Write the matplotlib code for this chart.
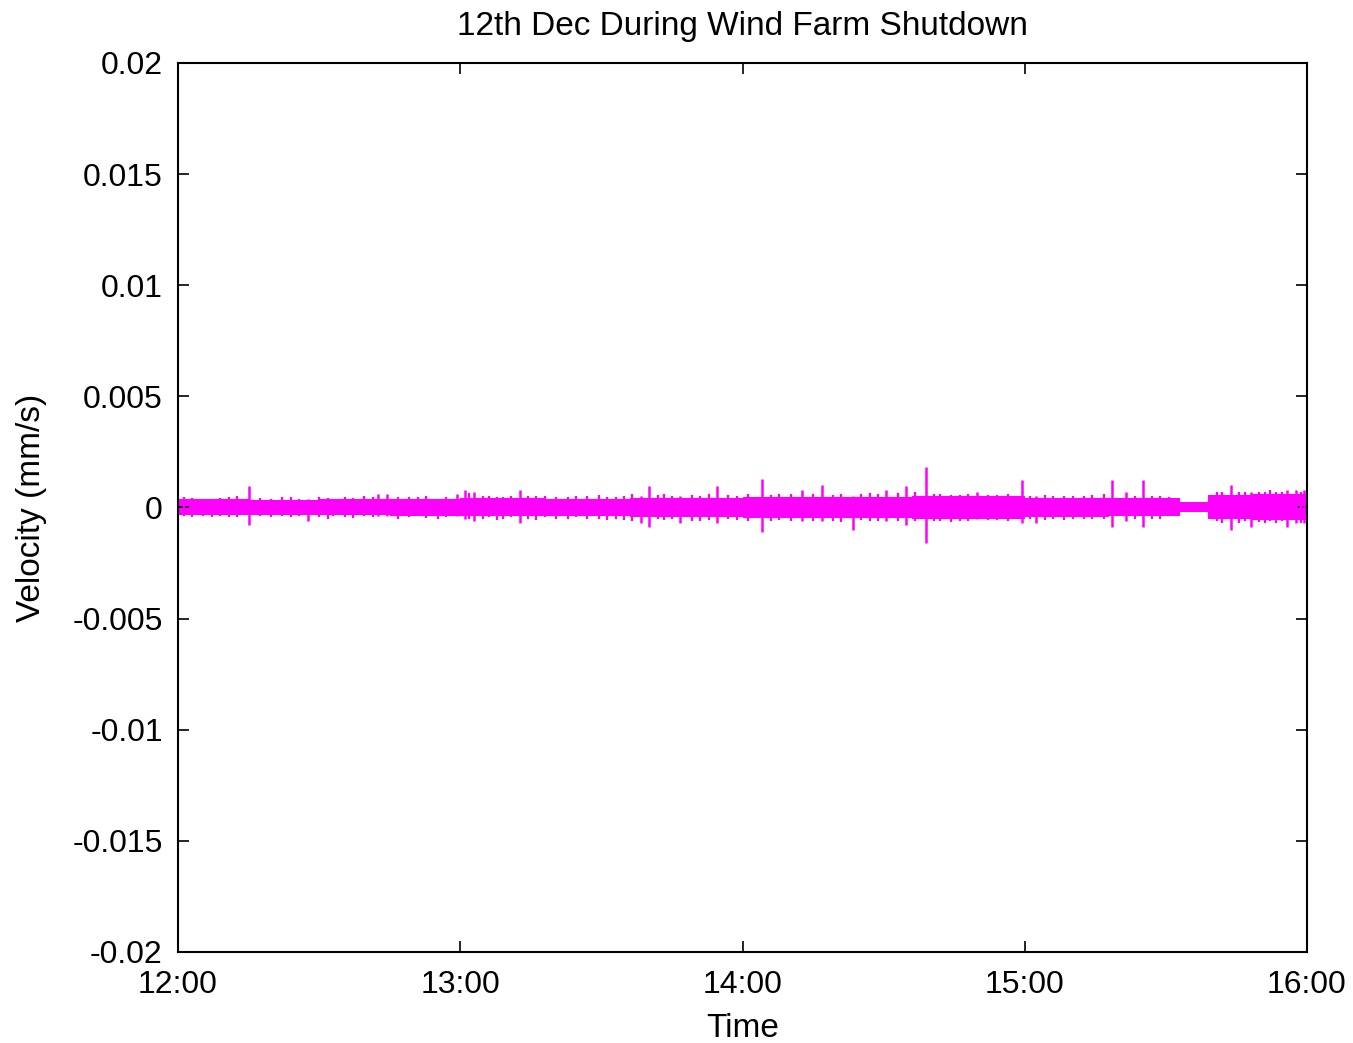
import matplotlib
matplotlib.use("Agg")
import matplotlib.pyplot as plt
import numpy as np

plt.rcParams['font.family'] = ['Liberation Sans', 'DejaVu Sans']

# hours after 12:00
base_t     = [0.0, 0.25, 0.5, 0.75, 1.0, 1.3, 1.6, 2.0, 2.3, 2.6, 3.0, 3.3, 3.55, 3.65, 3.8, 4.0]
base_upper = [0.00036, 0.00034, 0.00038, 0.00039, 0.00041, 0.00040, 0.00044, 0.00049, 0.00047,
              0.00050, 0.00044, 0.00042, 0.00026, 0.00056, 0.00062, 0.00062]
base_lower = [-0.00034, -0.00032, -0.00036, -0.00037, -0.00040, -0.00040, -0.00044, -0.00049,
              -0.00046, -0.00050, -0.00042, -0.00040, -0.00022, -0.00052, -0.00056, -0.00056]

# larger spikes: time, top, bottom
spike_t   = [0.25, 0.46, 0.71, 0.74, 0.99, 1.017, 1.05, 1.21, 1.64, 1.67, 1.78, 1.91,
             2.07, 2.21, 2.28, 2.39, 2.51, 2.58, 2.65, 2.83, 2.99, 3.04, 3.31, 3.36,
             3.42, 3.73, 3.80, 3.93, 3.96, 3.99]
spike_top = [0.00095, 0.0004, 0.0006, 0.0006, 0.0006, 0.0008, 0.0007, 0.0008, 0.0005, 0.00095,
             0.0005, 0.00095, 0.0013, 0.0008, 0.0010, 0.0005, 0.0008, 0.00095, 0.0018, 0.0007,
             0.00125, 0.0005, 0.00125, 0.0007, 0.00125, 0.0010, 0.0007, 0.0008, 0.0008, 0.0008]
spike_bot = [-0.00077, -0.0006, -0.0004, -0.0004, -0.0004, -0.0005, -0.0006, -0.0007, -0.0007, -0.0009,
             -0.0007, -0.0007, -0.0011, -0.0006, -0.0006, -0.0010, -0.0006, -0.0008, -0.0016, -0.0005,
             -0.0007, -0.0007, -0.0009, -0.0006, -0.0009, -0.0010, -0.0009, -0.0009, -0.0007, -0.0007]

# small jitter spikes along the band
small_t   = [0.02, 0.05, 0.09, 0.12, 0.15, 0.18, 0.21, 0.29, 0.33, 0.37, 0.40, 0.43, 0.50, 0.53,
             0.55, 0.59, 0.62, 0.66, 0.69, 0.78, 0.82, 0.85, 0.88, 0.92, 0.95, 1.03, 1.08, 1.10,
             1.13, 1.15, 1.18, 1.24, 1.27, 1.30, 1.34, 1.38, 1.41, 1.45, 1.49, 1.52, 1.55, 1.58,
             1.61, 1.70, 1.72, 1.75, 1.82, 1.85, 1.88, 1.95, 1.98, 2.02, 2.10, 2.13, 2.17, 2.25,
             2.32, 2.35, 2.42, 2.45, 2.48, 2.55, 2.61, 2.68, 2.70, 2.74, 2.77, 2.80, 2.87, 2.90,
             2.94, 3.02, 3.07, 3.10, 3.14, 3.17, 3.21, 3.24, 3.28, 3.39, 3.45, 3.48, 3.51, 3.68,
             3.70, 3.76, 3.78, 3.83, 3.85, 3.87, 3.89, 3.91, 3.98]
small_top = [0.00045, 0.00042, 0.00038, 0.0004, 0.00044, 0.00045, 0.0005, 0.00042, 0.0004, 0.00046,
             0.00045, 0.00038, 0.00045, 0.00042, 0.0004, 0.00046, 0.00042, 0.0005, 0.00048, 0.00045,
             0.00048, 0.00045, 0.0005, 0.0004, 0.00045, 0.00065, 0.0005, 0.0005, 0.00048, 0.00045,
             0.0005, 0.00052, 0.0005, 0.0005, 0.00048, 0.00045, 0.0005, 0.0005, 0.00055, 0.00045,
             0.00048, 0.0005, 0.0006, 0.00055, 0.0006, 0.00052, 0.00058, 0.0005, 0.0006, 0.00055,
             0.0005, 0.0006, 0.00058, 0.0006, 0.00062, 0.0006, 0.00058, 0.0006, 0.0006, 0.00065,
             0.0006, 0.00065, 0.0007, 0.0006, 0.0006, 0.00058, 0.00055, 0.0006, 0.00058, 0.00055,
             0.0006, 0.0005, 0.00055, 0.0005, 0.00052, 0.0005, 0.0005, 0.00055, 0.0006, 0.0005,
             0.0005, 0.0005, 0.00045, 0.0007, 0.0007, 0.0007, 0.00068, 0.0007, 0.0007, 0.0008,
             0.0007, 0.00068, 0.0007]
small_bot = [-0.0004, -0.00045, -0.0004, -0.00042, -0.0004, -0.00045, -0.00042, -0.0004, -0.00045,
             -0.0004, -0.00042, -0.0004, -0.00045, -0.0005, -0.0004, -0.00045, -0.00048, -0.0004,
             -0.00045, -0.0005, -0.00045, -0.0004, -0.00048, -0.0005, -0.00045, -0.0005, -0.0005,
             -0.00045, -0.00055, -0.0005, -0.00045, -0.0005, -0.00055, -0.00045, -0.0005, -0.0005,
             -0.00045, -0.0005, -0.0005, -0.00055, -0.0005, -0.00055, -0.0006, -0.0005, -0.00055,
             -0.0005, -0.0006, -0.0006, -0.00055, -0.0005, -0.00055, -0.0006, -0.0006, -0.00055,
             -0.0006, -0.0006, -0.0006, -0.00065, -0.00055, -0.0006, -0.0006, -0.00062, -0.0006,
             -0.0006, -0.0006, -0.00065, -0.0006, -0.0006, -0.00055, -0.00055, -0.0006, -0.0005,
             -0.00055, -0.0005, -0.00055, -0.0005, -0.0005, -0.00052, -0.0005, -0.0005, -0.0005,
             -0.0005, -0.0004, -0.0006, -0.0007, -0.0007, -0.0006, -0.00065, -0.0007, -0.0006,
             -0.0007, -0.0006, -0.0007]

yticks = [0.02, 0.015, 0.01, 0.005, 0, -0.005, -0.01, -0.015, -0.02]
ytick_labels = ['0.02', '0.015', '0.01', '0.005', '0', '-0.005', '-0.01', '-0.015', '-0.02']
xticks = [0, 1, 2, 3, 4]
xtick_labels = ['12:00', '13:00', '14:00', '15:00', '16:00']

col = '#ff00ff'
fig = plt.figure(figsize=(13.53, 10.43), dpi=100)
ax = fig.add_axes([0.1316, 0.0873, 0.8344, 0.8523])

ax.fill_between(base_t, base_lower, base_upper, step='post', color=col, lw=0)
ax.vlines(small_t, small_bot, small_top, color=col, lw=1.6)
ax.vlines(spike_t, spike_bot, spike_top, color=col, lw=1.8)

ax.set_xlim(0, 4)
ax.set_ylim(-0.02, 0.02)
ax.set_yticks(yticks)
ax.set_yticklabels(ytick_labels)
ax.set_xticks(xticks)
ax.set_xticklabels(xtick_labels)
ax.tick_params(direction='in', length=8, width=1.2, top=True, right=True, labelsize=23)
ax.tick_params(axis='y', pad=11)
ax.tick_params(axis='x', pad=13)
for s in ax.spines.values():
    s.set_linewidth(1.5)

ax.set_title('12th Dec During Wind Farm Shutdown', fontsize=24, pad=20)
ax.set_xlabel('Time', fontsize=24, labelpad=9)
ax.set_ylabel('Velocity (mm/s)', fontsize=24, labelpad=18)

fig.savefig('out.png', dpi=100)
